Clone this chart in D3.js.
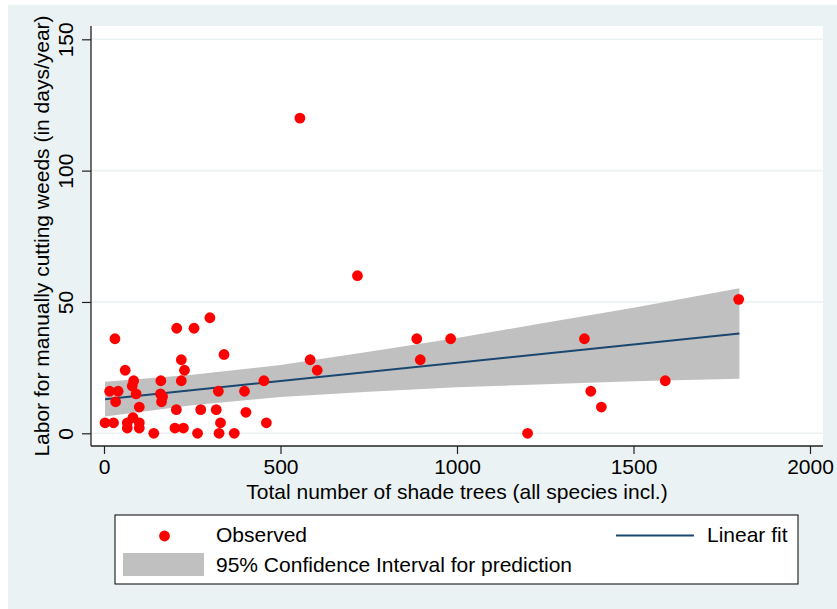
<!DOCTYPE html>
<html>
<head>
<meta charset="utf-8">
<script src="https://cdn.jsdelivr.net/npm/d3@7"></script>
<style>
  html, body { margin: 0; padding: 0; background: #ffffff; }
  svg { display: block; }
  text { font-family: "Liberation Sans", Arial, sans-serif; fill: #000; }
</style>
</head>
<body>
<svg id="chart" width="837" height="609"></svg>
<script>
// ---- Data ----
const shadeTrees = [555, 718, 31, 206, 255, 300, 340, 219, 228, 60,
  84, 80, 91, 161, 160, 166, 163, 219, 16, 40,
  33, 324, 398, 100, 205, 274, 318, 402, 3, 27,
  66, 82, 100, 66, 100, 330, 460, 201, 225, 141,
  265, 326, 369, 453, 584, 604, 886, 896, 982, 1200,
  1361, 1379, 1409, 1590, 1798];
const laborDays = [120, 60, 36, 40, 40, 44, 30, 28, 24, 24,
  20, 18, 15, 20, 15, 14, 12, 20, 16, 16,
  12, 16, 16, 10, 9, 9, 9, 8, 4, 4,
  4, 6, 4, 2, 2, 4, 4, 2, 2, 0,
  0, 0, 0, 20, 28, 24, 36, 28, 36, 0,
  36, 16, 10, 20, 51];

const fitX = [3, 1800];
const fitY = [13.0, 38.0];

const bandX  = [3, 250, 500, 750, 1000, 1250, 1500, 1800];
const bandLo = [6.4, 10.7, 13.8, 15.8, 17.5, 18.7, 19.8, 20.8];
const bandHi = [19.6, 22.3, 26.0, 31.0, 36.3, 42.1, 47.8, 55.2];

const xTicks = [0, 500, 1000, 1500, 2000];
const yTicks = [0, 50, 100, 150];

const xTitle = "Total number of shade trees (all species incl.)";
const yTitle = "Labor for manually cutting weeds (in days/year)";
const legendLabels = ["Observed", "Linear fit", "95% Confidence Interval for prediction"];

// ---- Layout ----
const plot = { left: 91, right: 823, top: 26, bottom: 446 };
const colors = { bg: "#EAF2F3", dot: "#FF0000", line: "#1A476F", band: "#C0C0C0", axis: "#222" };
const fontSize = 21;
const fontFamily = '"Liberation Sans", Arial, sans-serif';

const svg = d3.select("#chart");

// outer graph region
svg.append("rect").attr("x", 8).attr("y", 5).attr("width", 829).attr("height", 604)
  .attr("fill", colors.bg);
// plot region
svg.append("rect").attr("x", plot.left).attr("y", plot.top)
  .attr("width", plot.right - plot.left).attr("height", plot.bottom - plot.top)
  .attr("fill", "#fff");

const x = d3.scaleLinear().domain([0, 2000]).range([104, 810]);
const y = d3.scaleLinear().domain([0, 150]).range([433.3, 39.3]);

// gridlines
svg.append("g").selectAll("line").data(yTicks).join("line")
  .attr("x1", plot.left).attr("x2", plot.right)
  .attr("y1", d => y(d)).attr("y2", d => y(d))
  .attr("stroke", colors.bg).attr("stroke-width", 1.6);

// CI band
const bandData = bandX.map((v, i) => ({ x: v, lo: bandLo[i], hi: bandHi[i] }));
svg.append("path").datum(bandData)
  .attr("d", d3.area().x(d => x(d.x)).y0(d => y(d.lo)).y1(d => y(d.hi)))
  .attr("fill", colors.band);

// fit line
const fitData = fitX.map((v, i) => ({ x: v, y: fitY[i] }));
svg.append("path").datum(fitData)
  .attr("d", d3.line().x(d => x(d.x)).y(d => y(d.y)))
  .attr("fill", "none").attr("stroke", colors.line).attr("stroke-width", 2);

// points
const pts = shadeTrees.map((v, i) => ({ x: v, y: laborDays[i] }));
svg.append("g").selectAll("circle").data(pts).join("circle")
  .attr("cx", d => x(d.x)).attr("cy", d => y(d.y)).attr("r", 5.4)
  .attr("fill", colors.dot);

// axes
const xAxis = d3.axisBottom(x).tickValues(xTicks).tickFormat(d3.format("d")).tickSize(8).tickSizeOuter(0);
const gx = svg.append("g").attr("transform", `translate(0,${plot.bottom})`).call(xAxis);
gx.select(".domain").remove();
gx.selectAll(".tick line").attr("stroke", colors.axis).attr("stroke-width", 1.2);
gx.selectAll(".tick text").attr("y", 28).attr("dy", null)
  .style("font-size", fontSize + "px").style("font-family", fontFamily).attr("fill", "#000");

const yAxis = d3.axisLeft(y).tickValues(yTicks).tickFormat(d3.format("d")).tickSize(9).tickSizeOuter(0);
const gy = svg.append("g").attr("transform", `translate(${plot.left},0)`).call(yAxis);
gy.select(".domain").remove();
gy.selectAll(".tick line").attr("stroke", colors.axis).attr("stroke-width", 1.2);
gy.selectAll(".tick text").attr("x", null).attr("dy", null).attr("text-anchor", "middle")
  .attr("transform", "translate(-18,0) rotate(-90)")
  .style("font-size", fontSize + "px").style("font-family", fontFamily).attr("fill", "#000");

// axis lines
svg.append("line").attr("x1", plot.left).attr("x2", plot.left)
  .attr("y1", plot.top).attr("y2", plot.bottom)
  .attr("stroke", colors.axis).attr("stroke-width", 1.3);
svg.append("line").attr("x1", plot.left).attr("x2", plot.right)
  .attr("y1", plot.bottom).attr("y2", plot.bottom)
  .attr("stroke", colors.axis).attr("stroke-width", 1.3);

// axis titles
svg.append("text").attr("x", (plot.left + plot.right) / 2).attr("y", 499)
  .attr("text-anchor", "middle").style("font-size", fontSize + "px").text(xTitle);
svg.append("text").attr("transform", `translate(49,${(plot.top + plot.bottom) / 2}) rotate(-90)`)
  .attr("text-anchor", "middle").style("font-size", fontSize + "px").text(yTitle);

// legend
const lg = svg.append("g");
lg.append("rect").attr("x", 115).attr("y", 515).attr("width", 683).attr("height", 69)
  .attr("fill", "#fff").attr("stroke", "#000").attr("stroke-width", 1);
lg.append("circle").attr("cx", 164.5).attr("cy", 536).attr("r", 5.4).attr("fill", colors.dot);
lg.append("text").attr("x", 216).attr("y", 542).style("font-size", fontSize + "px").text(legendLabels[0]);
lg.append("line").attr("x1", 616).attr("x2", 694).attr("y1", 535.5).attr("y2", 535.5)
  .attr("stroke", colors.line).attr("stroke-width", 2);
lg.append("text").attr("x", 787.5).attr("y", 542).attr("text-anchor", "end")
  .style("font-size", fontSize + "px").text(legendLabels[1]);
lg.append("rect").attr("x", 123).attr("y", 553).attr("width", 81).attr("height", 23)
  .attr("fill", colors.band);
lg.append("text").attr("x", 216).attr("y", 572).style("font-size", fontSize + "px").text(legendLabels[2]);
</script>
</body>
</html>
